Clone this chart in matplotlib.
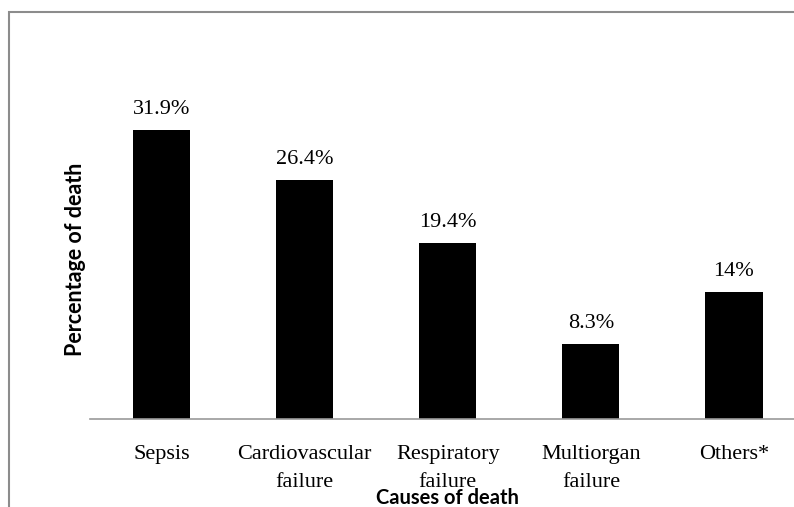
import matplotlib
matplotlib.use("Agg")
from matplotlib import pyplot as plt
from matplotlib.patches import Rectangle

causes = ['Sepsis', 'Cardiovascular\nfailure', 'Respiratory\nfailure', 'Multiorgan\nfailure', 'Others*']
percent = [31.9, 26.4, 19.4, 8.3, 14]
labels = ['31.9%', '26.4%', '19.4%', '8.3%', '14%']

serif = ['Liberation Serif', 'DejaVu Serif']

fig = plt.figure(figsize=(7.94, 5.07), dpi=100)

# grey frame around the chart (cut off right and bottom)
frame = Rectangle((9 / 794, -0.1), 1.2, (507 - 12) / 507 + 0.1, transform=fig.transFigure,
                  fill=False, edgecolor='#8c8c8c', linewidth=1.5)
fig.patches.append(frame)

ax = fig.add_axes([90 / 794, 88 / 507, 715.5 / 794, 317 / 507])
x = list(range(len(causes)))
ax.bar(x, percent, width=0.4, color='black')
ax.set_xlim(-0.5, 4.5)
ax.set_ylim(0, 35)

for xi, v, lab in zip(x, percent, labels):
    ax.annotate(lab, (xi, v), xytext=(0, 8), textcoords='offset points',
                ha='center', va='bottom', fontsize=16, family=serif)

ax.set_xticks(x)
ax.set_xticklabels(causes, fontsize=16, family=serif, linespacing=1.6)
ax.tick_params(axis='x', length=0, pad=19)
ax.set_yticks([])
for s in ['top', 'right', 'left']:
    ax.spines[s].set_visible(False)
ax.spines['bottom'].set_color('#9a9a9a')
ax.spines['bottom'].set_linewidth(1.2)
ax.patch.set_alpha(0)

fig.text(447.5 / 794, 3 / 507, 'Causes of death', ha='center', va='baseline',
         fontsize=14.5, fontweight='bold', family='Lato')
fig.text(76 / 794, (507 - 259) / 507, 'Percentage of death', ha='center', va='center',
         rotation=90, fontsize=15.5, fontweight='bold', family='Lato')

plt.savefig('out.png', dpi=100)
